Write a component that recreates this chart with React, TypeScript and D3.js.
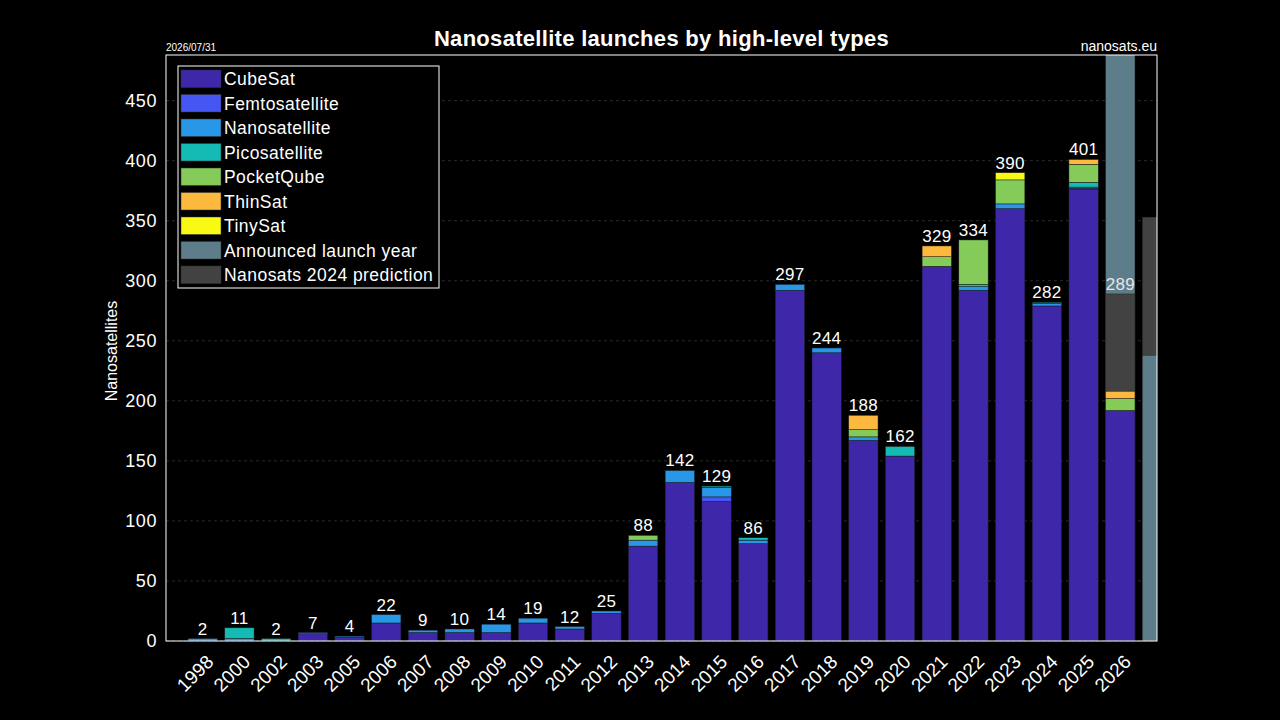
import * as d3 from 'd3';

const width = 1280;
const height = 720;
const marginLeft = 166;
const marginRight = 123; // 1280 - 1157
const marginTop = 55;
const marginBottom = 79; // 720 - 641

// launch years on the axis
const years = [
  '1998', '2000', '2002', '2003', '2005', '2006', '2007', '2008', '2009',
  '2010', '2011', '2012', '2013', '2014', '2015', '2016', '2017', '2018',
  '2019', '2020', '2021', '2022', '2023', '2024', '2025', '2026',
];
const extraYears = ['2027']; // cut by the right edge

const cubeSat = [0, 0, 0, 6, 3, 15, 7, 7, 7, 15, 10, 23, 79, 132, 116, 81, 292, 240, 167, 154, 312, 292, 360, 279, 376, 192];
const femto = [0, 0, 0, 0, 0, 0, 0, 0, 0, 0, 0, 0, 0, 0, 4, 0, 0, 0, 0, 0, 0, 0, 0, 0, 1, 0];
const nano = [2, 2, 0, 1, 1, 7, 2, 3, 7, 4, 2, 2, 5, 10, 8, 3, 5, 4, 3, 0, 0, 3, 4, 2, 1, 0];
const pico = [0, 9, 2, 0, 0, 0, 0, 0, 0, 0, 0, 0, 0, 0, 1, 2, 0, 0, 0, 8, 0, 2, 0, 1, 4, 0];
const pocketQube = [0, 0, 0, 0, 0, 0, 0, 0, 0, 0, 0, 0, 4, 0, 0, 0, 0, 0, 6, 0, 8, 37, 20, 0, 15, 10];
const thinSat = [0, 0, 0, 0, 0, 0, 0, 0, 0, 0, 0, 0, 0, 0, 0, 0, 0, 0, 12, 0, 9, 0, 0, 0, 4, 6];
const tinySat = [0, 0, 0, 0, 0, 0, 0, 0, 0, 0, 0, 0, 0, 0, 0, 0, 0, 0, 0, 0, 0, 0, 6, 0, 0, 0];

// forecast bars
const forecastYears = ['2026', '2027'];
const announced = [540, 238];
const prediction = [289, 353];

const seriesNames = [
  'CubeSat', 'Femtosatellite', 'Nanosatellite', 'Picosatellite',
  'PocketQube', 'ThinSat', 'TinySat',
];
const seriesValues = [cubeSat, femto, nano, pico, pocketQube, thinSat, tinySat];
const seriesColors = ['#3e27a8', '#4656f2', '#2897e8', '#14bbb4', '#84cb5a', '#fcb93e', '#f8fa14'];
const announcedColor = '#5e7d8a';
const predictionColor = '#424242';

const yTicks = [0, 50, 100, 150, 200, 250, 300, 350, 400, 450];
const font = '"Liberation Sans", Arial, sans-serif';

const x = d3
  .scalePoint<string>()
  .domain([...years, ...extraYears])
  .range([marginLeft + (width - marginLeft - marginRight) / 27, width - marginRight]);
const barW = x.step() * 0.8;

const y = d3
  .scaleLinear()
  .domain([0, 488])
  .range([height - marginBottom, marginTop]);

const rows = years.map((yr, i) => {
  const r: Record<string, any> = { year: yr };
  seriesNames.forEach((s, k) => (r[s] = seriesValues[k][i]));
  return r;
});
const stacked = d3.stack().keys(seriesNames)(rows as any);

const totals = years.map((_, i) => d3.sum(seriesValues, (s) => s[i]));
const labels = years.map((yr, i) => {
  const f = forecastYears.indexOf(yr);
  return f >= 0 ? prediction[f] : totals[i];
});

// forecast bars: the taller drawn first, the shorter over it
const forecastBars = forecastYears.flatMap((yr, i) => {
  const pair = [
    { year: yr, value: announced[i], color: announcedColor },
    { year: yr, value: prediction[i], color: predictionColor },
  ];
  return pair.sort((a, b) => b.value - a.value);
});

const legendItems = [
  ...seriesNames.map((n, k) => ({ name: n, color: seriesColors[k] })),
  { name: 'Announced launch year', color: announcedColor },
  { name: 'Nanosats 2024 prediction', color: predictionColor },
];

export default function App() {
  const plotW = width - marginLeft - marginRight;
  const plotH = height - marginTop - marginBottom;
  const y0 = height - marginBottom;

  return (
    <svg
      width={width}
      height={height}
      style={{ position: 'absolute', left: 0, top: 0, background: '#000', fontFamily: font }}
    >
      <rect width={width} height={height} fill="#000" />
      <defs>
        <clipPath id="plot">
          <rect x={marginLeft} y={marginTop} width={plotW} height={plotH} />
        </clipPath>
      </defs>

      {/* grid */}
      {yTicks.map((t) => (
        <line
          key={'g' + t}
          x1={marginLeft}
          x2={width - marginRight}
          y1={y(t)}
          y2={y(t)}
          stroke="#333"
          strokeDasharray="3,3"
          strokeWidth={0.8}
        />
      ))}

      <g clipPath="url(#plot)">
        {forecastBars.map((d, i) => (
          <rect
            key={'f' + i}
            x={x(d.year)! - barW / 2}
            y={y(d.value)}
            width={barW}
            height={y0 - y(d.value)}
            fill={d.color}
            stroke="#222"
            strokeWidth={0.5}
          />
        ))}
        {stacked.map((layer, k) =>
          layer.map((seg, i) =>
            seg[1] - seg[0] > 0 ? (
              <rect
                key={k + '-' + i}
                x={x(years[i])! - barW / 2}
                y={y(seg[1])}
                width={barW}
                height={y(seg[0]) - y(seg[1])}
                fill={seriesColors[k]}
                stroke="#1a1a1a"
                strokeWidth={0.5}
              />
            ) : null
          )
        )}
      </g>

      {/* value labels */}
      {years.map((yr, i) => (
        <text
          key={'l' + yr}
          x={x(yr)}
          y={y(labels[i]) - 4}
          textAnchor="middle"
          fill={forecastYears.includes(yr) ? '#e6e6e6' : '#fff'}
          fontSize={17}
          letterSpacing={0.3}
        >
          {labels[i]}
        </text>
      ))}

      {/* frame */}
      <rect
        x={marginLeft}
        y={marginTop}
        width={plotW}
        height={plotH}
        fill="none"
        stroke="#fff"
        strokeWidth={1}
      />

      {/* y axis */}
      {yTicks.map((t) => (
        <text
          key={'y' + t}
          x={marginLeft - 9}
          y={y(t)}
          dy="0.35em"
          textAnchor="end"
          fill="#fff"
          fontSize={18}
          letterSpacing={0.6}
        >
          {t}
        </text>
      ))}
      <text
        transform={`translate(${117},${351}) rotate(-90)`}
        textAnchor="middle"
        fill="#fff"
        fontSize={16}
      >
        Nanosatellites
      </text>

      {/* x axis */}
      {years.map((yr) => (
        <text
          key={'x' + yr}
          transform={`translate(${x(yr)! + 12},${y0 + 22}) rotate(-45)`}
          textAnchor="end"
          fill="#fff"
          fontSize={19}
        >
          {yr}
        </text>
      ))}

      {/* titles */}
      <text
        x={marginLeft + plotW / 2}
        y={46}
        textAnchor="middle"
        fill="#fff"
        fontSize={22}
        fontWeight="bold"
        letterSpacing={0.3}
      >
        Nanosatellite launches by high-level types
      </text>
      <text x={marginLeft} y={51} fill="#fff" fontSize={10}>
        2026/07/31
      </text>
      <text x={width - marginRight} y={51} textAnchor="end" fill="#fff" fontSize={14}>
        nanosats.eu
      </text>

      {/* legend */}
      <g transform="translate(178,66)">
        <rect width={261} height={222} fill="#000" stroke="#fff" strokeWidth={1} />
        {legendItems.map((d, i) => (
          <g key={d.name} transform={`translate(3,${4 + i * 24.5})`}>
            <rect width={40} height={17.5} fill={d.color} stroke="#333" strokeWidth={0.5} />
            <text x={43} y={9} dy="0.35em" fill="#fff" fontSize={17.5} letterSpacing={0.45}>
              {d.name}
            </text>
          </g>
        ))}
      </g>
    </svg>
  );
}
